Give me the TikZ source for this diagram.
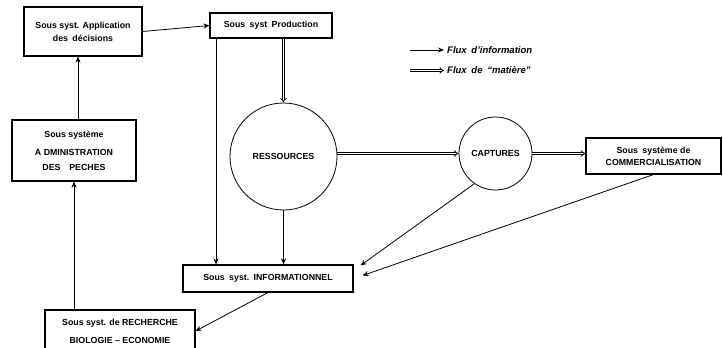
\documentclass[tikz,border=0pt]{standalone}
\usepackage{fontspec}
\setmainfont{Liberation Sans}
\usetikzlibrary{arrows.meta}
\begin{document}
\begin{tikzpicture}[x=1pt,y=-1pt,
    font=\fontsize{8.8}{10}\selectfont\bfseries,
    boite/.style={draw,line width=1.1pt,align=center,inner sep=0pt},
    rond/.style={draw,circle,line width=0.8pt,inner sep=0pt},
    legende/.style={anchor=west,inner sep=0pt,font=\fontsize{9.5}{11}\selectfont\bfseries\itshape},
    flux/.style={line width=0.8pt,-{Stealth[length=6pt,width=5pt,inset=2pt]}},
    matiere/.style={line width=0.8pt,double,double distance=1.4pt,-{Implies}}]
  \useasboundingbox (0,0) rectangle (723,348);
  \node[boite,minimum width=118pt,minimum height=49pt] (app) at (83,31.5) {Sous syst. Application\\[3pt]des\enspace décisions};
  \node[boite,minimum width=122pt,minimum height=25pt] (prod) at (271,25.5) {Sous\enspace syst\enspace Production};
  \node[boite,minimum width=124pt,minimum height=61pt] (admin) at (74,150.5) {Sous système\\[8pt]A DMINISTRATION\\[5pt]DES\quad PECHES};
  \node[boite,minimum width=150pt,minimum height=42pt] (rech) at (120,331) {Sous syst. de RECHERCHE\\[8pt]BIOLOGIE -- ECONOMIE};
  \node[boite,minimum width=170pt,minimum height=27pt] (info) at (268,278.5) {Sous\enspace syst.\enspace INFORMATIONNEL};
  \node[boite,minimum width=135pt,minimum height=36pt] (comm) at (653.5,156) {Sous\enspace système de\\[2pt]COMMERCIALISATION};
  \node[rond,minimum size=107pt] (res) at (283.5,156.5) {RESSOURCES};
  \node[rond,minimum size=73pt] (capt) at (495.5,153.5) {CAPTURES};

  \node[legende] (t1) at (447,50) {Flux\enspace d'information};
  \node[legende] (t2) at (447,70) {Flux\enspace de\enspace “matière”};
  \coordinate (l1) at (410,50);
  \coordinate (l2) at (410,70.5);
  \draw[flux] (l1) -- ([xshift=-3pt]t1.west);
  \draw[matiere] (l2) -- ([xshift=-3pt]t2.west |- l2);

  \draw[flux] (app.east) -- (prod.west);
  \draw[flux] ([xshift=-5pt]app.south |- admin.north) -- ([xshift=-5pt]app.south);
  \draw[flux] (admin.south |- rech.north) -- (admin.south);
  \draw[flux] ([xshift=-55pt]prod.south) -- ([xshift=-55pt]prod.south |- info.north);
  \draw[matiere] (res.north |- prod.south) -- (res.north);
  \draw[flux] (res.south) -- (res.south |- info.north);
  \draw[matiere] (capt.west -| res.east) -- (capt.west);
  \draw[matiere] (capt.east) -- (capt.east -| comm.west);
  \draw[flux] (capt.235) -- ([xshift=7pt,yshift=-1pt]info.north east);
  \draw[flux] (comm.south) -- ([xshift=9pt,yshift=3pt]info.east);
  \draw[flux] (info.south) -- (rech.east);
\end{tikzpicture}
\end{document}
